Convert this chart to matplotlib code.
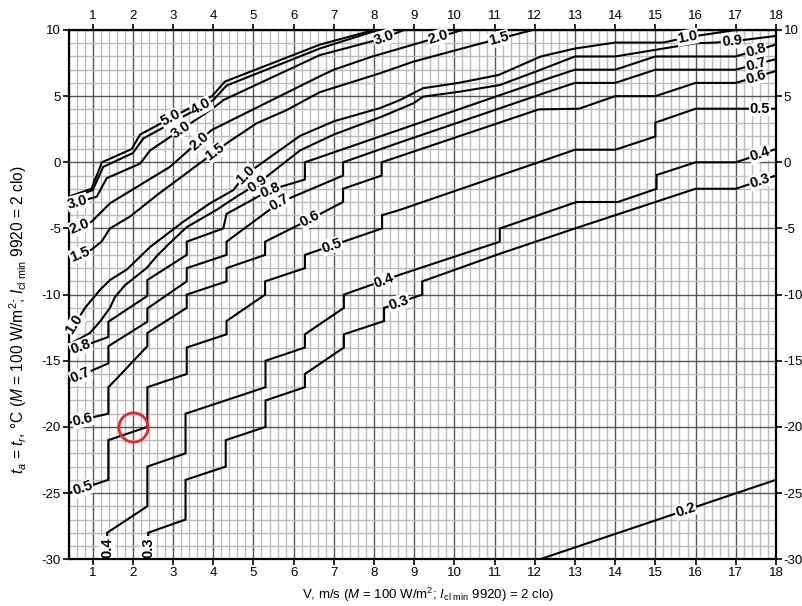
import numpy as np
import matplotlib.pyplot as plt
from matplotlib.ticker import MultipleLocator

plt.rcParams['font.family'] = ['Liberation Sans', 'DejaVu Sans']
plt.rcParams['mathtext.fontset'] = 'custom'
plt.rcParams['mathtext.rm'] = 'Liberation Sans'
plt.rcParams['mathtext.it'] = 'Liberation Sans:italic'

# isolines: air velocity V (m/s) and temperature t (degC)
v_50 = [0.4, 0.97, 1.23, 1.97, 2.18, 3.97, 4.29, 6.66, 8.0]
t_50 = [-2.6, -2.0, 0.0, 1.0, 2.1, 5.0, 6.1, 8.9, 10.0]
v_40 = [0.4, 1.0, 1.26, 2.0, 2.26, 4.0, 4.33, 6.65, 8.1]
t_40 = [-2.8, -2.1, -0.35, 0.7, 1.8, 4.7, 5.8, 8.6, 10.0]
v_30 = [0.4, 1.1, 1.35, 2.18, 2.43, 4.0, 4.25, 6.65, 8.2, 8.75]
t_30 = [-3.2, -2.6, -1.2, -0.1, 0.9, 4.1, 4.7, 8.1, 9.35, 10.0]
v_20 = [0.4, 0.97, 1.43, 1.97, 2.92, 3.96, 6.65, 7.0, 7.94, 9.14, 10.2]
t_20 = [-5.2, -4.5, -3.1, -2.1, -0.35, 2.44, 6.5, 7.0, 7.98, 9.04, 10.0]
v_15 = [0.4, 0.97, 1.22, 1.43, 1.93, 2.59, 4.33, 5.08, 5.83, 6.65, 8.15, 8.97, 10.68, 11.95]
t_15 = [-7.3, -6.6, -6.0, -5.0, -4.1, -2.5, 1.43, 2.95, 3.95, 5.3, 6.73, 7.6, 9.0, 10.0]
v_10 = [0.4, 0.81, 1.18, 1.43, 1.85, 2.43, 3.25, 3.92, 4.5, 4.79, 6.16, 7.0, 8.15, 8.64,
        9.22, 10.1, 11.1, 12.15, 13.0, 14.0, 15.2, 15.8, 17.0]
t_10 = [-13.0, -11.0, -9.65, -8.9, -8.1, -6.4, -4.5, -3.1, -2.1, -0.96, 2.0, 3.1, 4.1, 4.7,
        5.6, 6.0, 6.6, 8.0, 8.6, 9.05, 9.05, 9.45, 10.0]
v_09 = [0.4, 0.93, 1.18, 1.43, 1.55, 1.8, 2.34, 2.59, 2.92, 3.34, 4.08, 4.58, 5.11, 6.16,
        7.0, 8.19, 8.98, 9.22, 10.14, 11.13, 12.15, 13.0, 14.0, 15.0, 16.0, 16.5, 17.2, 18.0]
t_09 = [-13.8, -12.9, -12.05, -11.0, -10.2, -9.3, -8.0, -7.1, -6.1, -4.9, -3.6, -2.6, -1.6, 0.9,
        2.1, 3.45, 4.46, 4.96, 5.34, 5.84, 7.0, 8.0, 8.0, 8.5, 9.0, 9.05, 9.25, 9.55]
v_08 = [0.4, 1.39, 1.39, 2.36, 2.36, 3.34, 3.34, 4.25, 4.33, 5.41, 6.28, 6.28, 12.4, 13.0,
        14.0, 15.0, 17.0, 18.0]
t_08 = [-14.3, -13.2, -12.05, -10.1, -8.9, -7.0, -6.0, -5.0, -3.9, -2.1, -1.3, 0.0, 6.4, 7.0,
        7.0, 8.0, 8.0, 8.9]
v_07 = [0.4, 1.39, 1.39, 2.36, 2.36, 3.34, 3.34, 4.33, 4.33, 5.64, 7.23, 7.23, 8.64, 12.4,
        13.0, 14.0, 15.0, 17.0, 18.0]
t_07 = [-16.5, -15.2, -13.9, -12.05, -11.05, -9.0, -8.0, -7.0, -6.0, -3.05, -1.0, 0.0, 1.5, 5.4,
        6.0, 6.0, 7.0, 7.0, 7.8]
v_06 = [0.4, 1.39, 1.39, 1.55, 2.36, 2.36, 3.34, 3.34, 4.33, 4.33, 5.29, 5.29, 6.41, 7.23,
        7.23, 8.19, 8.19, 12.1, 13.1, 14.0, 15.0, 16.0, 17.0, 18.0]
t_06 = [-19.7, -19.0, -17.0, -16.5, -13.9, -12.9, -11.0, -10.0, -9.0, -8.0, -7.0, -6.0, -4.3, -3.0,
        -2.0, -1.0, 0.0, 4.0, 4.05, 5.0, 5.0, 6.0, 6.0, 6.9]
v_05 = [0.4, 1.39, 1.39, 2.36, 2.36, 3.34, 3.34, 4.33, 4.33, 5.29, 5.29, 6.28, 6.28, 6.95,
        8.2, 8.2, 8.64, 13.0, 14.0, 15.0, 15.0, 16.0, 17.0, 18.0]
t_05 = [-25.0, -24.0, -21.0, -20.0, -17.0, -16.0, -14.0, -13.0, -12.0, -10.0, -9.0, -8.0, -7.0, -6.3,
        -5.0, -4.0, -3.6, 0.95, 0.95, 1.95, 3.0, 4.05, 4.05, 4.05]
v_04 = [1.36, 1.36, 2.36, 2.36, 3.31, 3.31, 5.3, 5.3, 6.28, 6.28, 7.25, 7.25, 8.64, 11.13,
        11.13, 13.04, 14.07, 15.03, 15.03, 16.0, 17.0, 18.0]
t_04 = [-30.0, -28.0, -26.0, -23.0, -22.0, -19.0, -17.0, -15.0, -14.0, -13.0, -11.0, -10.0, -8.5, -6.0,
        -5.0, -3.0, -3.0, -2.0, -0.96, 0.0, 0.0, 1.0]
v_03 = [2.38, 2.38, 3.31, 3.31, 4.31, 4.31, 5.3, 5.3, 6.28, 6.28, 7.25, 7.25, 8.25, 8.25,
        9.2, 9.2, 11.14, 13.0, 15.0, 16.0, 17.0, 18.0]
t_03 = [-30.0, -28.0, -27.0, -24.0, -23.0, -21.0, -20.0, -18.0, -17.0, -16.0, -14.0, -13.0, -12.0, -11.0,
        -10.0, -9.0, -6.9, -5.0, -3.0, -2.0, -2.0, -1.0]
v_02 = [12.13, 18.0]
t_02 = [-30.0, -24.0]

# label positions (V along each line)
lab_50 = [2.95]
lab_40 = [3.7]
lab_30 = [0.62, 3.2, 8.25]
lab_20 = [0.68, 3.65, 9.6]
lab_15 = [0.68, 4.05, 11.1]
lab_10 = [0.55, 4.8, 15.8]
lab_09 = [5.1, 16.9]
lab_08 = [0.7, 5.41, 17.5]
lab_07 = [0.7, 5.64, 17.5]
lab_06 = [0.75, 6.41, 17.5]
lab_05 = [0.75, 6.95, 17.6]
lab_04 = [8.25, 17.6]
lab_03 = [8.62, 17.6]
lab_02 = [15.75]

lines = [('5.0', v_50, t_50, lab_50), ('4.0', v_40, t_40, lab_40),
         ('3.0', v_30, t_30, lab_30), ('2.0', v_20, t_20, lab_20),
         ('1.5', v_15, t_15, lab_15), ('1.0', v_10, t_10, lab_10),
         ('0.9', v_09, t_09, lab_09), ('0.8', v_08, t_08, lab_08),
         ('0.7', v_07, t_07, lab_07), ('0.6', v_06, t_06, lab_06),
         ('0.5', v_05, t_05, lab_05), ('0.4', v_04, t_04, lab_04),
         ('0.3', v_03, t_03, lab_03), ('0.2', v_02, t_02, lab_02)]

fig = plt.figure(figsize=(8.02, 6.06), dpi=100)
ax = fig.add_axes([0.0855, 0.0772, 0.8820, 0.8733])
ax.set_xlim(0.4, 18)
ax.set_ylim(-30, 10)

ax.xaxis.set_major_locator(MultipleLocator(1))
ax.xaxis.set_minor_locator(MultipleLocator(0.2))
ax.yaxis.set_major_locator(MultipleLocator(5))
ax.yaxis.set_minor_locator(MultipleLocator(1))
ax.grid(which='minor', color='#bcbcbc', lw=1.0)
ax.grid(which='major', color='#555555', lw=1.0)
ax.set_axisbelow(True)
ax.tick_params(which='minor', length=0)
ax.tick_params(which='major', direction='out', length=4, width=1.2, labelsize=9.5,
               top=True, right=True, labeltop=True, labelright=True, pad=1.5)
for s in ax.spines.values():
    s.set_linewidth(1.6)
ax.yaxis.set_major_formatter(plt.FuncFormatter(lambda y, p: '%d' % y))

for name, vv, tt, labs in lines:
    ax.plot(vv, tt, color='black', lw=1.5, solid_joinstyle='miter', zorder=3)
    for lv in labs:
        lt = np.interp(lv, vv, tt)
        p1 = ax.transData.transform((lv - 0.15, np.interp(lv - 0.15, vv, tt)))
        p2 = ax.transData.transform((lv + 0.15, np.interp(lv + 0.15, vv, tt)))
        ang = np.degrees(np.arctan2(p2[1] - p1[1], p2[0] - p1[0]))
        ax.text(lv, lt, name, rotation=ang, rotation_mode='anchor', ha='center', va='center',
                fontsize=10.5, fontweight='bold', zorder=4,
                bbox=dict(boxstyle='square,pad=0.05', fc='white', ec='none'))

# bottom labels written along the vertical start of two lines
for name, vv in [('0.4', v_04), ('0.3', v_03)]:
    ax.text(vv[0], -29.1, name, rotation=90, ha='center', va='center', fontsize=10.5,
            fontweight='bold', zorder=4,
            bbox=dict(boxstyle='square,pad=0.05', fc='white', ec='none'))

ax.plot([2.01], [-20], 'o', ms=21, mfc='none', mec='#e8262b', mew=2, zorder=5)

ax.set_xlabel('V, m/s ($M$ = 100 W/m$^2$; $I_{\\rm cl\\ min}$ 9920) = 2 clo)', fontsize=9.5)
ax.xaxis.set_label_coords(0.509, -0.050)
ax.set_ylabel('$t_a$ = $t_r$, °C ($M$ = 100 W/m$^2$; $I_{\\rm cl\\ min}$ 9920 = 2 clo)', fontsize=11.2)
ax.yaxis.set_label_coords(-0.056, 0.452)

fig.savefig('out.png', dpi=100)
